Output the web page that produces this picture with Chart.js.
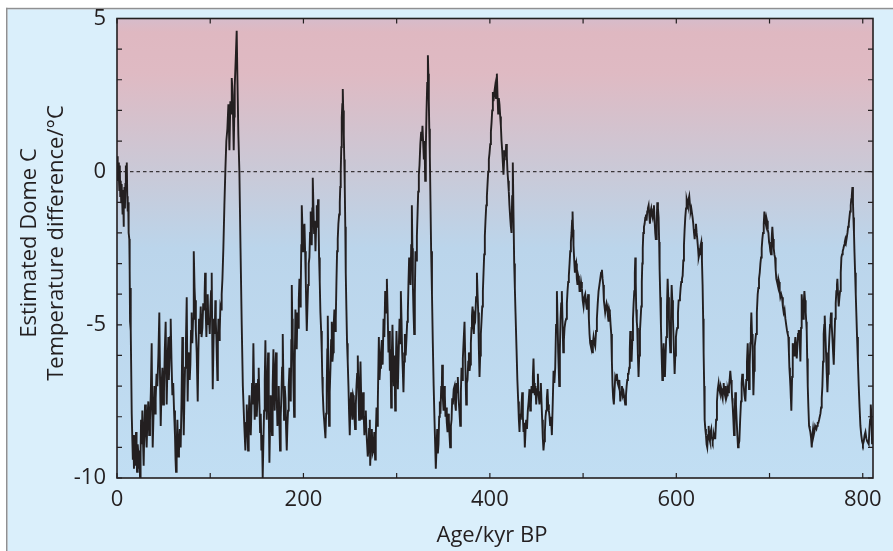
<!DOCTYPE html>
<html><head><meta charset="utf-8">
<script src="https://cdn.jsdelivr.net/npm/chart.js@4.4.1/dist/chart.umd.min.js"></script>
<style>html,body{margin:0;padding:0;background:#fff;}#wrap{width:893px;height:551px;}</style>
</head><body><div id="wrap"><canvas id="c" width="893" height="551"></canvas></div>
<script>
// Estimated Dome C temperature difference (°C) vs age (kyr BP)
const holoceneToLGM = [[0,0.5],[0.5,0.1],[1,-0.3],[1.5,0.3],[2,-0.2],[2.5,-0.6],[3,0.2],[3.5,-0.8],[4,-0.3],[4.5,-1.0],[5,-0.4],[5.5,-0.9],[6,-1.4],[6.5,-0.6],[7,-1.8],[7.5,-1.0],[8,-0.5],[8.5,-1.2],[9,-0.4],[9.5,0.2],[10,-0.6],[10.5,0.3],[11,-0.8],[11.5,-1.3],[12,-1.0],[12.5,-2.0],[13.2,-2.2],[13.6,-3.2],[14,-4.9],[14.5,-3.8],[15,-5.2],[15.8,-7.9],[16.5,-8.8],[17,-9.4],
[17.5,-8.6],[18.2,-9.7],[18.8,-8.9],[19.3,-9.6],[19.9,-9.0],[20.4,-8.5],[21.0,-9.4],[21.5,-9.8],[22.2,-8.9],[22.9,-9.2],[23.5,-9.7],[24.1,-9.1],[24.7,-10.0],[25.3,-9.2],[25.8,-8.1],[26.5,-8.9],[27.2,-7.8],[27.9,-8.8],[28.6,-9.6],[29.3,-8.4]];
const glacial1 = [[30.1,-7.6],[31.0,-8.5],[31.8,-9.0],[32.7,-8.0],[33.6,-7.5],[34.5,-8.6],[35.4,-8.1],[36.3,-7.2],[37.2,-5.6],[37.8,-7.8],[38.3,-9.0],[39.2,-7.9],[40.1,-7.0],[40.8,-7.9],[41.5,-7.4],[42.4,-6.6],[43.3,-7.0],[44.4,-6.0],[45.4,-4.6],[46.2,-6.8],[46.9,-8.3],[47.8,-7.0],[48.7,-6.4],[49.5,-7.6],[50.4,-7.2],[51.3,-5.8],[52.2,-4.9],[52.8,-6.5],[53.3,-7.6],[54.2,-6.2],[55.1,-5.4],[55.6,-6.8],[56.2,-6.3],[56.9,-5.4],[57.6,-4.8],[58.5,-6.2],[59.4,-7.3],[60.3,-6.9],[61.2,-7.8],[62.2,-8.6],[62.8,-9.4],[63.3,-9.8],[64.0,-8.9],[64.8,-8.1],[65.6,-9.3],[66.5,-9.1],[67.4,-8.4],[68.3,-9.0],[69.2,-7.5],[70.1,-5.4],[70.8,-7.2],[71.6,-8.6],[72.3,-7.4],[73.0,-6.4],[73.9,-5.6],[74.8,-4.1],[75.3,-6.0],[75.8,-7.5],[76.5,-6.2],[77.3,-5.9],[78.0,-6.8],[78.7,-6.3],[79.4,-5.2],[80.1,-4.6],[80.8,-5.6],[81.6,-4.8],[82.1,-3.9],[82.6,-2.6],[83.2,-3.8],[83.7,-4.2],[84.6,-5.2],[85.5,-5.9],[86.1,-6.8],[86.6,-7.5],[87.3,-5.9],[88.0,-4.8],[88.9,-5.3],[89.8,-4.4],[90.7,-5.4],[91.6,-5.1],[92.5,-4.3],[93.4,-4.5],[94.0,-4.0],[94.5,-3.3],[95.2,-4.6],[95.9,-5.4],[96.6,-4.5],[97.3,-4.0],[98.0,-5.0],[98.7,-4.8],[99.5,-5.3],[100.2,-4.4],[100.9,-3.9],[101.6,-3.3],[102.2,-5.5],[102.7,-7.1],[103.4,-5.8],[104.1,-4.8],[104.8,-5.3],[105.5,-4.2],[106.0,-4.9],[106.6,-5.4],[107.2,-6.2],[107.7,-6.8],[108.2,-5.6],[108.8,-4.8],[109.5,-5.5],[110.2,-5.2],[110.9,-4.4],[111.6,-4.5],[112.3,-4.0],[113.1,-3.5],[114.1,-2.5],[115.2,-1.1],[116.3,0.1],[117.3,1.0],[118.4,1.4],[119.5,2.2],[120.6,0.7],[121.6,2.3],[122.3,1.9],[123.1,3.06],[124.1,2.5],[124.7,1.5],[125.2,0.7],[125.8,1.8],[126.3,2.8],[127.4,3.7],[128.4,4.6],[129.2,3.0],[130.2,1.2],[131.3,0.0],[132.5,-2.5],[133.8,-5.0],[135.0,-7.0]];
const glacial2 = [[136.3,-8.1],[137.7,-9.1],[138.5,-8.2],[139.2,-7.6],[140.0,-8.5],[140.6,-9.1],[141.3,-8.0],[142.0,-7.3],[142.8,-8.0],[143.5,-8.6],[144.2,-7.8],[144.9,-6.9],[145.6,-7.6],[146.3,-5.6],[147.0,-7.0],[147.7,-8.1],[148.5,-7.4],[149.2,-6.9],[149.9,-8.0],[150.6,-7.5],[151.3,-6.8],[152.0,-6.4],[152.8,-7.6],[153.5,-8.5],[154.2,-7.9],[154.9,-9.1],[155.6,-8.6],[156.3,-10.0],[157.0,-8.9],[157.8,-7.8],[158.5,-6.8],[159.2,-5.5],[159.9,-7.2],[160.6,-8.1],[161.3,-7.0],[162.1,-5.9],[162.8,-7.8],[163.5,-9.5],[164.2,-8.3],[164.9,-7.3],[165.6,-8.0],[166.3,-8.6],[167.0,-7.0],[167.8,-5.8],[168.5,-6.9],[169.2,-7.8],[169.9,-6.5],[170.6,-5.9],[171.3,-7.3],[172.1,-8.3],[172.8,-7.5],[173.5,-7.0],[174.2,-8.2],[174.9,-9.1],[175.6,-8.0],[176.4,-7.3],[177.1,-6.4],[177.8,-5.3],[178.5,-6.8],[179.2,-8.1],[179.9,-7.0],[180.7,-7.4],[181.4,-8.4],[182.1,-9.1],[182.8,-8.3],[183.5,-7.8],[184.2,-7.0],[185.0,-6.4],[185.7,-7.2],[186.4,-7.5],[187.0,-5.5],[187.5,-3.7],[188.0,-4.8],[188.5,-5.4],[189.2,-6.8],[190.0,-8.0],[190.7,-6.2],[191.4,-4.5],[192.1,-5.2],[192.8,-5.8],[193.5,-4.6],[194.3,-5.1],[195.0,-4.2],[195.7,-3.5],[196.4,-4.4],[197.1,-3.9],[197.7,-2.4],[198.2,-1.1],[198.9,-1.8],[199.6,-2.6],[200.3,-1.9],[201.1,-1.7],[201.8,-2.6],[202.5,-3.5],[203.0,-4.4],[203.6,-5.2],[204.3,-4.4],[205.0,-3.7],[205.7,-3.0],[206.4,-2.8],[207.1,-2.0],[207.8,-1.3],[208.4,-1.8],[208.9,-2.4],[209.5,-1.2],[210.0,-0.2],[210.7,-1.1],[211.4,-2.0],[212.2,-1.6],[212.9,-2.6],[213.6,-1.8],[214.3,-1.1],[215.0,-1.5],[215.7,-0.9],[216.3,-1.8],[216.8,-2.8],[217.5,-3.6],[218.2,-4.6],[219.0,-5.2],[219.7,-5.9],[220.2,-6.7],[220.7,-7.2],[221.5,-7.8],[222.2,-8.1],[222.9,-8.4],[223.6,-8.7],[224.3,-7.9],[225.0,-7.0],[225.6,-5.8],[226.1,-4.7],[226.8,-6.5],[227.5,-8.3],[228.2,-7.2],[229.0,-6.4],[229.7,-5.5],[230.4,-4.9],[231.1,-6.2],[231.8,-5.9],[232.5,-5.0],[233.2,-4.5],[234.0,-5.2],[234.7,-4.8],[235.4,-3.6],[236.1,-2.6],[236.8,-2.2],[237.5,-1.7],[238.3,-1.4],[239.0,-1.0],[239.5,-0.5],[240.0,0.0],[240.6,0.8],[241.1,1.75],[241.7,2.2],[242.2,2.7],[242.7,2.0],[243.3,1.2],[243.8,0.4],[244.3,-0.4],[244.9,-1.8],[245.4,-3.3],[246.1,-4.5],[246.8,-5.6],[247.5,-6.2],[248.3,-7.0],[249.0,-7.9],[249.7,-8.6],[250.4,-7.6],[251.1,-7.2],[251.8,-7.8],[252.6,-8.1],[253.3,-7.3],[254.0,-7.4],[254.7,-8.0],[255.4,-8.4],[256.2,-7.6],[256.9,-7.0],[257.6,-6.6],[258.3,-6.0],[259.0,-7.2],[259.7,-8.1],[260.5,-7.0],[261.2,-6.2],[261.9,-7.3],[262.6,-8.1],[263.3,-7.6],[264.0,-7.2],[264.7,-8.0],[265.4,-8.6],[266.2,-8.0],[266.9,-7.8],[267.6,-8.5],[268.3,-8.9],[269.0,-9.3],[269.7,-9.1],[270.4,-8.4],[271.2,-8.1]];
const glacial3 = [[271.6,-9.6],[272.5,-8.8],[273.4,-8.4],[274.2,-9.2],[275.1,-9.1],[276.0,-8.5],[276.9,-9.4],[277.6,-8.6],[278.4,-7.7],[279.1,-8.3],[279.8,-7.5],[280.9,-5.4],[281.6,-6.8],[282.3,-6.4],[283.2,-5.9],[284.1,-5.5],[285.0,-6.3],[285.9,-4.8],[286.8,-5.4],[287.7,-3.9],[288.6,-4.6],[289.5,-3.5],[290.3,-4.5],[291.2,-5.9],[292.0,-5.2],[292.7,-6.5],[293.4,-5.8],[294.1,-7.7],[294.8,-6.0],[295.5,-5.0],[296.3,-6.2],[297.0,-7.0],[297.7,-6.0],[298.4,-7.8],[299.1,-6.4],[299.8,-5.2],[300.6,-6.0],[301.3,-7.1],[302.2,-5.9],[303.1,-4.8],[303.8,-5.6],[304.5,-3.9],[305.2,-4.8],[305.9,-5.9],[306.6,-6.5],[307.3,-7.2],[308.0,-6.2],[308.8,-5.3],[309.7,-6.0],[310.6,-5.4],[311.3,-4.9],[312.0,-4.6],[312.7,-3.6],[313.4,-2.8],[314.2,-3.3],[314.9,-3.7],[315.6,-2.4],[316.3,-1.1],[316.9,-2.5],[317.4,-3.7],[318.1,-4.6],[318.8,-5.3],[319.5,-4.0],[320.2,-2.6],[321.0,-2.9],[321.7,-2.1],[322.4,-1.4],[323.1,-0.65],[323.8,-0.1],[324.5,0.2],[325.4,0.9],[326.3,1.3],[327.0,1.0],[327.7,1.5],[328.5,0.9],[329.2,0.4],[329.9,1.0],[330.6,-0.3],[331.3,0.8],[332.0,1.9],[332.8,2.9],[333.5,3.8],[334.0,3.2],[334.5,2.3],[335.0,1.4],[335.6,0.5],[336.3,-1.0],[337.0,-2.6],[337.9,-4.0],[338.8,-5.6],[339.7,-7.0],[340.6,-8.1],[341.3,-8.9],[342.0,-9.7],[342.8,-9.0],[343.5,-8.4],[344.2,-9.2],[344.9,-8.9],[345.6,-8.0],[346.3,-7.5],[347.0,-7.9],[347.8,-7.0],[348.3,-7.4],[348.8,-6.3],[349.6,-7.4],[350.3,-7.8],[351.0,-7.0],[351.7,-7.3],[352.4,-8.0],[353.1,-7.7],[353.8,-8.2],[354.6,-8.5],[355.3,-7.9],[356.0,-8.1],[356.7,-8.6],[357.4,-9.0],[358.2,-8.3],[358.9,-8.1],[359.6,-7.4],[360.3,-7.6],[361.2,-7.1],[362.1,-7.0],[362.8,-7.6],[363.5,-7.8],[364.2,-6.9],[364.9,-7.2],[365.6,-6.7],[366.4,-7.4],[367.3,-7.8],[368.2,-8.3],[368.9,-7.2],[369.6,-6.4],[370.3,-6.8],[371.0,-6.1],[371.9,-5.5],[372.8,-4.9],[373.7,-6.3],[374.6,-7.6],[375.3,-6.9],[376.0,-6.8],[376.8,-6.2],[377.5,-5.9],[378.2,-6.5],[378.9,-6.3],[379.6,-5.6],[380.3,-5.1],[380.8,-4.7],[381.4,-4.4],[382.1,-5.0],[382.8,-5.3],[383.5,-4.7],[384.3,-4.8],[385.2,-4.1],[386.1,-3.3],[386.8,-4.0],[387.5,-4.6],[388.2,-5.8],[388.9,-6.7],[389.6,-6.0],[390.3,-5.3],[391.0,-4.9],[391.8,-4.4],[392.5,-3.9],[393.2,-3.3],[393.9,-2.7],[394.6,-2.1],[395.3,-1.6],[396.1,-1.1],[396.8,-0.8],[397.5,-0.4],[398.2,0.0],[398.9,0.4],[399.6,0.6],[400.4,0.9],[401.1,1.3],[401.8,1.6],[402.5,2.0],[403.2,2.6]];
const glacial4 = [[403.9,2.3],[404.8,2.6],[405.7,2.8],[406.6,2.4],[407.5,3.2],[408.2,2.5],[408.9,1.9],[409.6,2.4],[410.3,2.2],[411.1,1.8],[411.8,1.5],[412.5,1.0],[413.2,0.7],[413.9,0.3],[414.6,-0.1],[415.3,0.4],[416.0,0.7],[416.8,0.5],[417.5,0.9],[418.2,0.5],[418.9,0.0],[419.6,-0.3],[420.3,-0.65],[421.0,-1.1],[421.8,-1.5],[422.5,-1.8],[423.2,-2.0],[423.9,-0.8],[424.6,0.3],[425.4,-1.5],[426.1,-3.0],[426.8,-3.8],[427.5,-4.6],[428.6,-5.8],[429.5,-6.8],[430.4,-7.5],[431.1,-8.1],[431.8,-8.5],[432.5,-7.9],[433.2,-8.1],[434.0,-7.6],[434.7,-7.2],[435.4,-8.0],[436.1,-8.5],[436.8,-8.2],[437.5,-9.0],[438.2,-8.5],[438.9,-8.1],[439.8,-8.4],[440.7,-7.8],[441.6,-7.5],[442.5,-7.1],[443.3,-7.8],[444.0,-7.6],[444.7,-7.0],[445.4,-7.2],[446.1,-6.7],[446.8,-6.1],[447.5,-6.9],[448.2,-7.3],[448.9,-7.0],[449.7,-7.6],[450.6,-7.1],[451.5,-6.6],[452.3,-7.3],[453.2,-7.6],[454.0,-7.2],[454.7,-6.9],[455.4,-7.5],[456.1,-8.1],[456.8,-8.7],[457.5,-9.1],[458.3,-8.8],[459.0,-8.5],[459.7,-8.0],[460.4,-7.8],[461.1,-7.4],[461.8,-7.1],[462.5,-7.6],[463.3,-7.8],[464.0,-8.0],[464.7,-8.3],[465.6,-8.0],[466.5,-8.6],[467.4,-7.6],[468.3,-6.5],[469.2,-6.9],[470.1,-6.4],[471.0,-5.0],[471.9,-3.9],[472.6,-4.8],[473.3,-5.9],[474.4,-7.0],[475.1,-5.8],[475.8,-4.8],[476.5,-4.3],[477.2,-3.9],[477.9,-4.8],[478.7,-5.9],[479.4,-5.5],[480.1,-5.1],[481.0,-4.9],[481.9,-4.8],[482.6,-4.3],[483.3,-3.9],[484.0,-3.6],[484.7,-3.4],[485.5,-3.0],[486.2,-2.6],[486.9,-2.3],[487.6,-2.0],[488.2,-1.6],[488.7,-1.3],[489.2,-1.9],[489.7,-2.4],[490.5,-2.9],[491.2,-3.3],[491.9,-3.1],[492.6,-3.0],[493.3,-3.5],[494.0,-3.7],[494.8,-3.4],[495.5,-3.5],[496.2,-3.9],[496.9,-3.9],[497.8,-3.6],[498.7,-3.8],[499.6,-4.2],[500.5,-4.4],[501.4,-4.1],[502.3,-4.0],[503.2,-4.3],[504.1,-4.5],[504.8,-4.2],[505.5,-4.0],[506.2,-4.8],[506.9,-5.3],[507.6,-5.6],[508.3,-5.7],[509.0,-5.5],[509.8,-5.9],[510.5,-5.6],[511.2,-5.4],[512.1,-5.6],[513.0,-5.7],[513.9,-5.2],[514.8,-4.8],[515.7,-4.3],[516.6,-3.9],[517.5,-3.7],[518.4,-3.5],[519.3,-3.3],[520.2,-3.2],[520.9,-3.5],[521.6,-3.7],[522.3,-4.2],[523.0,-4.4],[523.7,-4.6],[524.4,-4.6],[525.2,-4.3],[525.9,-4.4],[526.6,-4.7],[527.3,-4.9],[528.0,-4.5],[528.7,-4.6],[529.5,-5.0],[530.2,-5.3],[530.9,-6.2],[531.6,-7.0],[532.3,-7.4],[533.0,-7.6],[533.8,-7.1],[534.5,-6.7],[535.4,-6.8],[536.2,-6.6],[537.1,-6.9],[538.0,-7.0]];
const glacial5 = [[538.9,-6.8],[539.9,-7.5],[540.8,-7.2],[541.7,-7.0],[542.6,-7.3],[543.4,-7.2],[544.3,-7.4],[545.2,-7.6],[546.0,-7.3],[546.7,-7.0],[547.4,-6.8],[548.1,-6.6],[548.8,-6.6],[549.5,-6.4],[550.1,-5.8],[550.6,-5.2],[551.3,-5.8],[552.0,-6.2],[552.8,-5.5],[553.5,-4.8],[554.2,-4.3],[554.9,-3.9],[555.5,-3.3],[556.0,-2.8],[556.5,-3.6],[557.0,-4.5],[557.6,-4.9],[558.1,-5.1],[558.8,-6.0],[559.5,-6.7],[560.2,-6.0],[561.0,-5.2],[561.7,-4.8],[562.4,-4.4],[563.0,-3.6],[563.5,-3.0],[564.0,-2.5],[564.6,-2.0],[565.3,-1.8],[566.0,-1.7],[566.7,-1.5],[567.4,-1.4],[568.1,-1.6],[568.8,-1.3],[569.5,-1.2],[570.3,-1.1],[571.0,-1.4],[571.7,-1.7],[572.4,-1.3],[573.1,-1.2],[573.8,-1.4],[574.6,-1.5],[575.3,-1.3],[576.0,-1.1],[576.7,-1.6],[577.4,-2.0],[578.0,-2.2],[578.5,-2.2],[579.0,-1.6],[579.6,-1.0],[580.3,-1.2],[581.0,-1.5],[581.6,-2.3],[582.1,-3.2],[582.8,-4.1],[583.5,-5.0],[584.2,-5.9],[585.0,-6.8],[585.7,-6.2],[586.4,-5.6],[587.1,-6.2],[587.8,-6.7],[588.5,-6.0],[589.2,-5.4],[590.0,-4.4],[590.7,-3.5],[591.4,-4.1],[592.1,-4.8],[592.8,-5.4],[593.5,-5.9],[594.3,-4.8],[595.0,-3.7],[595.7,-4.2],[596.4,-4.8],[597.3,-5.7],[598.2,-6.6],[598.9,-6.0],[599.6,-5.4],[600.3,-5.2],[601.0,-5.1],[601.8,-4.6],[602.5,-4.2],[603.2,-4.2],[603.9,-4.1],[604.6,-3.8],[605.3,-3.6],[606.1,-3.5],[606.8,-3.4],[607.5,-2.9],[608.2,-2.4],[608.9,-1.9],[609.6,-1.5],[610.4,-1.2],[611.1,-0.9],[611.8,-1.0],[612.5,-1.1],[613.2,-0.9],[613.9,-0.8],[614.7,-1.1],[615.4,-1.3],[616.1,-1.2],[616.8,-1.2],[617.5,-1.5],[618.2,-1.7],[619.0,-2.0],[619.7,-2.2],[620.4,-1.9],[621.1,-1.7],[621.8,-2.0],[622.5,-2.2],[623.3,-2.5],[624.0,-2.8],[624.7,-2.7],[625.4,-2.6],[626.1,-2.4],[626.8,-2.3],[627.5,-2.9],[628.2,-3.7],[628.8,-4.8],[629.3,-5.9],[629.9,-7.0],[630.4,-8.1],[631.1,-8.4],[631.8,-8.6],[632.5,-8.9],[633.2,-9.0],[634.0,-8.6],[634.7,-8.3],[635.4,-8.7],[636.1,-8.8],[636.8,-8.5],[637.5,-8.4],[638.3,-8.7],[639.0,-8.8],[639.7,-8.7],[640.4,-8.6],[641.1,-8.7],[641.8,-8.7],[642.7,-8.1],[643.6,-7.5],[644.5,-7.1],[645.4,-6.9],[646.1,-7.1],[646.8,-7.2],[647.6,-7.0],[648.3,-7.1],[649.0,-7.3],[649.7,-7.4],[650.2,-7.1],[650.8,-6.9],[651.5,-7.2],[652.2,-7.3],[652.9,-7.0],[653.6,-7.4],[654.4,-7.3],[655.1,-7.1],[655.8,-7.2],[656.5,-7.0],[657.2,-6.8],[657.9,-6.5],[658.7,-6.8],[659.4,-7.1],[659.9,-7.4],[660.4,-7.6],[661.2,-8.1],[661.9,-8.6],[662.6,-7.9],[663.3,-7.2],[664.0,-7.6],[664.7,-8.1],[665.5,-8.6],[666.2,-9.0],[666.9,-8.9],[667.6,-8.8],[668.5,-8.1],[669.4,-7.5],[670.1,-6.9],[670.8,-6.6]];
const glacial6 = [[671.5,-6.8],[672.3,-7.0],[673.2,-7.3],[674.1,-7.5],[675.0,-6.8],[675.8,-6.2],[676.6,-5.6],[677.3,-6.4],[678.0,-7.1],[678.7,-6.3],[679.4,-5.6],[680.0,-5.1],[680.5,-4.6],[681.2,-5.3],[681.9,-5.9],[682.7,-7.3],[683.4,-6.5],[684.1,-5.7],[684.8,-5.5],[685.5,-5.3],[686.4,-4.6],[687.3,-4.0],[688.0,-3.8],[688.7,-3.5],[689.5,-3.3],[690.2,-3.0],[690.9,-2.8],[691.6,-2.5],[692.3,-2.2],[693.0,-2.0],[693.8,-1.7],[694.5,-1.3],[695.2,-1.6],[695.9,-1.7],[696.6,-1.5],[697.3,-1.6],[698.1,-1.9],[698.8,-2.0],[699.5,-2.3],[700.2,-2.4],[700.9,-2.6],[701.6,-2.7],[702.3,-2.2],[703.0,-1.8],[703.8,-2.2],[704.5,-2.5],[705.2,-2.7],[705.9,-2.8],[706.6,-3.2],[707.3,-3.5],[708.1,-3.6],[708.8,-3.7],[709.5,-3.5],[710.2,-3.6],[710.9,-3.9],[711.6,-4.1],[712.5,-4.0],[713.4,-4.1],[714.3,-4.4],[715.2,-4.6],[716.1,-4.5],[717.0,-4.8],[717.9,-5.0],[718.8,-5.2],[719.5,-5.3],[720.2,-5.4],[720.8,-5.9],[721.3,-6.4],[721.9,-6.7],[722.4,-7.0],[722.9,-7.4],[723.4,-7.8],[724.2,-6.7],[724.9,-5.6],[725.6,-5.8],[726.3,-6.0],[727.0,-5.7],[727.7,-5.4],[728.5,-5.8],[729.2,-6.1],[729.9,-5.7],[730.6,-5.3],[731.3,-5.2],[732.0,-5.2],[732.6,-5.7],[733.1,-6.2],[733.8,-5.1],[734.5,-4.0],[735.2,-4.4],[736.0,-4.8],[736.7,-4.3],[737.4,-3.9],[738.1,-4.2],[738.8,-4.6],[739.4,-4.9],[739.9,-5.2],[740.4,-6.1],[741.0,-7.0],[741.7,-7.7],[742.4,-8.3],[743.1,-8.4],[743.8,-8.5],[744.6,-8.7],[745.3,-9.0],[746.0,-8.6],[746.7,-8.4],[747.4,-8.6],[748.1,-8.5],[748.9,-8.3],[749.6,-8.3],[750.3,-8.4],[751.0,-8.3],[751.7,-8.2],[752.4,-8.2],[753.2,-8.1],[753.9,-8.1],[754.6,-7.9],[755.3,-7.7],[756.0,-7.4],[756.7,-7.0],[757.4,-6.2],[758.1,-5.3],[758.7,-5.0],[759.2,-4.7],[759.9,-5.3],[760.6,-5.9],[761.4,-6.6],[762.1,-7.2],[762.8,-6.6],[763.5,-5.9],[764.2,-5.4],[764.9,-5.0],[765.5,-4.8],[766.0,-4.6],[766.7,-5.0],[767.4,-5.4],[768.2,-5.9],[768.9,-6.3],[769.6,-5.5],[770.3,-4.8],[771.0,-4.3],[771.7,-3.9],[772.3,-3.7],[772.8,-3.5],[773.5,-4.0],[774.2,-4.4],[775.0,-4.1],[775.7,-3.9],[776.4,-3.3],[777.1,-2.8],[777.8,-2.7],[778.5,-2.6],[779.3,-2.5],[780.0,-2.4],[780.7,-2.3],[781.4,-2.2],[782.1,-2.3],[782.8,-2.3],[783.6,-2.0],[784.3,-1.8],[785.0,-1.7],[785.7,-1.5],[786.4,-1.3],[787.1,-1.1],[787.7,-0.9],[788.2,-0.8],[788.9,-0.5],[789.5,-1.0],[790.0,-1.5],[790.6,-2.0],[791.1,-2.6],[791.8,-3.3],[792.5,-4.0],[793.2,-4.7],[793.9,-5.4],[794.8,-6.2],[795.7,-7.0],[796.6,-7.7],[797.5,-8.3],[798.4,-8.6],[799.3,-8.8],[800.2,-8.9],[801.1,-8.8],[802.0,-8.6],[802.9,-8.5],[803.8,-8.7],[804.7,-8.8],[805.5,-8.8],[806.4,-8.9],[807.2,-8.4],[807.9,-8.1],[808.6,-7.6],[809.4,-8.0],[810.0,-8.9],[810.8,-8.9]];

const xLabelTicks = [0, 200, 400, 600, 800];
const xMinorTicks = [0, 100, 200, 300, 400, 500, 600, 700, 800];
const yLabelTicks = [-10, -5, 0, 5];
const yMinorTicks = [-10, -9, -8, -7, -6, -5, -4, -3, -2, -1, 0, 1, 2, 3, 4, 5];
const xTitle = 'Age/kyr BP';
const yTitleLines = ['Estimated Dome C', 'Temperature difference/°C'];
const referenceLine = 0;

const record = [].concat(holoceneToLGM, glacial1, glacial2, glacial3, glacial4, glacial5, glacial6);
const INK = '#231f20';
const FONT = '"Open Sans", "Noto Sans", sans-serif';

const decor = {
  id: 'decor',
  beforeDraw(chart) {
    const {ctx, chartArea: a, width, height} = chart;
    ctx.save();
    ctx.fillStyle = '#ffffff';
    ctx.fillRect(0, 0, width, height);
    ctx.fillStyle = '#daeffb';
    ctx.fillRect(7.5, 9.3, width - 7.5, height - 9.3);
    ctx.fillStyle = '#8f9092';
    ctx.fillRect(6, 7.8, width - 6, 1.5);
    ctx.fillRect(6, 7.8, 1.5, height - 7.8);
    const g = ctx.createLinearGradient(0, a.top, 0, a.bottom);
    g.addColorStop(0.0, '#d6bccb');
    g.addColorStop(0.03, '#dfb8c1');
    g.addColorStop(0.12, '#dfbac3');
    g.addColorStop(0.33, '#cac9d7');
    g.addColorStop(0.5, '#bbd5eb');
    g.addColorStop(1.0, '#c1def3');
    ctx.fillStyle = g;
    ctx.fillRect(a.left, a.top, a.right - a.left, a.bottom - a.top);
    ctx.restore();
  },
  beforeDatasetsDraw(chart) {
    const {ctx, chartArea: a, scales} = chart;
    const y0 = scales.y.getPixelForValue(referenceLine);
    ctx.save();
    ctx.strokeStyle = '#3a3638';
    ctx.lineWidth = 1.3;
    ctx.setLineDash([3.5, 3]);
    ctx.beginPath();
    ctx.moveTo(a.left, y0);
    ctx.lineTo(a.right, y0);
    ctx.stroke();
    ctx.restore();
  },
  afterDatasetsDraw(chart) {
    const {ctx, chartArea: a, scales} = chart;
    ctx.save();
    ctx.strokeStyle = INK;
    ctx.lineWidth = 1.6;
    ctx.strokeRect(a.left, a.top, a.right - a.left, a.bottom - a.top);
    ctx.lineWidth = 1.2;
    ctx.beginPath();
    xMinorTicks.forEach(v => {
      const px = scales.x.getPixelForValue(v);
      ctx.moveTo(px, a.bottom); ctx.lineTo(px, a.bottom - 5);
      ctx.moveTo(px, a.top); ctx.lineTo(px, a.top + 5);
    });
    yMinorTicks.forEach(v => {
      const py = scales.y.getPixelForValue(v);
      ctx.moveTo(a.left, py); ctx.lineTo(a.left + 5, py);
      ctx.moveTo(a.right, py); ctx.lineTo(a.right - 5, py);
    });
    ctx.stroke();
    ctx.fillStyle = INK;
    ctx.font = '22px ' + FONT;
    ctx.textAlign = 'center';
    ctx.textBaseline = 'middle';
    ctx.fillText(xTitle, 492, 536);
    const xs = [30, 57];
    yTitleLines.forEach((t, i) => {
      ctx.save();
      ctx.translate(xs[i], 243);
      ctx.rotate(-Math.PI / 2);
      ctx.fillText(t, 0, 0);
      ctx.restore();
    });
    ctx.restore();
  }
};

new Chart(document.getElementById('c'), {
  type: 'line',
  data: {
    datasets: [{
      data: record.map(p => ({x: p[0], y: p[1]})),
      borderColor: INK,
      borderWidth: 1.9,
      pointRadius: 0,
      tension: 0,
      fill: false
    }]
  },
  options: {
    responsive: false,
    animation: false,
    devicePixelRatio: 1,
    parsing: false,
    layout: {padding: {left: 0, top: 18.5, right: 20, bottom: 0}},
    plugins: {legend: {display: false}, tooltip: {enabled: false}},
    scales: {
      x: {
        type: 'linear', min: 0, max: 811,
        grid: {display: false}, border: {display: false},
        afterBuildTicks: s => { s.ticks = xLabelTicks.map(v => ({value: v})); },
        afterFit: s => { s.height = 73; },
        ticks: {color: INK, font: {family: FONT, size: 22}, padding: 1, maxRotation: 0, callback: v => String(v)}
      },
      y: {
        type: 'linear', min: -10, max: 5,
        grid: {display: false}, border: {display: false},
        afterBuildTicks: s => { s.ticks = yLabelTicks.map(v => ({value: v})); },
        afterFit: s => { s.width = 117; },
        ticks: {color: INK, font: {family: FONT, size: 22}, padding: 3, callback: v => String(v)}
      }
    }
  },
  plugins: [decor]
});
</script>
</body></html>
